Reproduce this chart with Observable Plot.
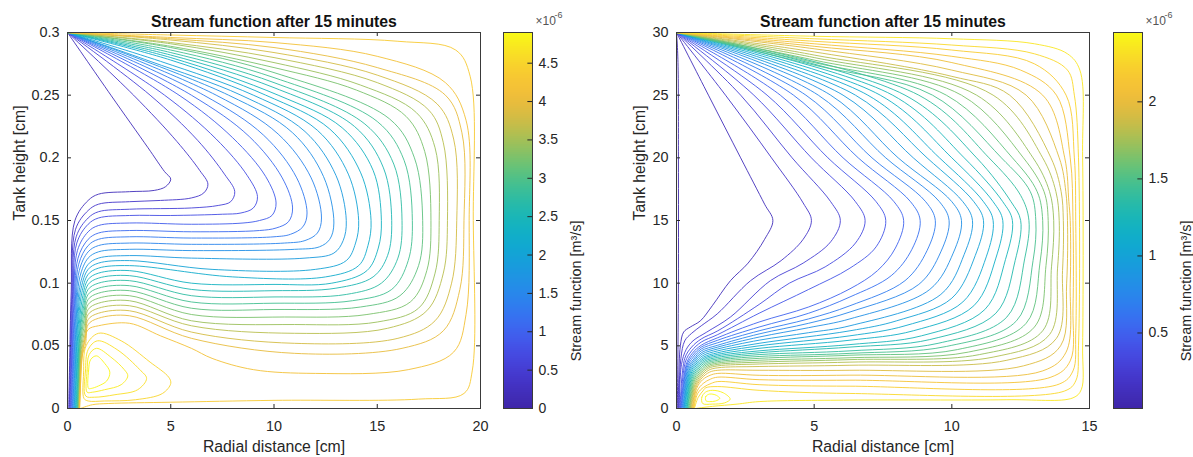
<!DOCTYPE html>
<html><head><meta charset="utf-8">
<script src="https://cdn.jsdelivr.net/npm/d3@7"></script>
<script src="https://cdn.jsdelivr.net/npm/@observablehq/plot@0.6"></script>
<style>
html,body{margin:0;padding:0;background:#fff;width:1193px;height:457px;overflow:hidden}
#root{position:relative;width:1193px;height:457px}
#root svg{position:absolute;top:0}
</style></head><body><div id="root"></div>
<script>
// ---------- texts ----------
const titleText = "Stream function after 15 minutes";
const xLabelText = "Radial distance [cm]";
const yLabelText = "Tank height [cm]";
const cbLabelText = "Stream function [m³/s]";
const cbExpBase = "×10";
const cbExpPower = "-6";

// ---------- parula-like colour stops ----------
const parulaStops = ["#3e26a8","#4637d0","#4558ef","#2f7ff2","#1b98e0","#0aafcc","#23bbaa","#5fc47a","#b3bf4d","#f4b83b","#f9cd2f","#f9fb15"];

// ---------- left panel (tank 20 cm) ----------
const leftXTicks = [0,5,10,15,20];
const leftYTicks = [0,0.05,0.1,0.15,0.2,0.25,0.3];
const leftCbTicks = [0,0.5,1,1.5,2,2.5,3,3.5,4,4.5];
const leftCbRange = [0,4.9];
const leftLevels = [0.2,0.38,0.56,0.74,0.92,1.1,1.28,1.46,1.64,1.82,2.0,2.18,2.36,2.54,2.72,2.9,3.08,3.26,3.44,3.62,3.8,3.98,4.16,4.34];
const leftLines = [
[0,.3,2.1,.25,3.9,.208,4.7,.189,5.0,.183,4.75,.177,4.2,.174,3,.173,1.5,.171,1.0,.166,.36,.15,.18,.093,.1,.034,.06,0],
[0,.3,3.2,.25,5.3,.213,6.4,.19,6.8,.179,6.6,.172,6.0,.168,4.5,.166,3,.165,1.5,.163,1.0,.158,.39,.143,.21,.09,.13,.033,.09,0],
[0,.3,4,.25,6.3,.214,7.6,.187,8.1,.173,7.9,.165,7.3,.162,6,.16,3,.159,1.5,.157,1.0,.152,.42,.137,.24,.087,.16,.032,.12,0],
[0,.3,4.7,.25,7.2,.215,8.7,.186,9.2,.169,9.0,.16,8.4,.156,7.5,.155,5,.154,3,.154,1.5,.152,1.0,.147,.45,.132,.27,.085,.19,.031,.15,0],
[0,.3,5.4,.25,8.0,.216,9.6,.185,10.1,.164,9.9,.154,9.3,.15,8.5,.148,6,.147,3,.148,1.5,.146,1.0,.141,.48,.126,.3,.082,.22,.03,.18,0],
[0,.3,6,.25,8.8,.217,10.4,.184,10.9,.16,10.7,.149,10.1,.144,9.3,.142,6,.141,3,.142,1.5,.14,1.0,.135,.51,.12,.33,.078,.25,.03,.21,0],
[0,.3,6.6,.25,9.5,.218,11.1,.184,11.6,.156,11.4,.145,10.8,.139,10,.137,6,.136,3,.137,1.5,.135,1.0,.13,.54,.115,.36,.075,.28,.028,.24,0],
[0,.3,7.2,.25,10.2,.219,11.8,.184,12.3,.152,12.1,.14,11.5,.134,10.5,.132,6,.131,3,.132,1.5,.13,1.0,.125,.57,.11,.39,.072,.31,.027,.27,0],
[0,.3,7.8,.25,10.9,.22,12.4,.185,12.9,.148,12.7,.135,12.2,.129,11,.127,6,.126,3,.127,1.5,.125,1.0,.12,.6,.105,.42,.07,.34,.026,.3,0],
[0,.3,4,.277,8.4,.25,11.5,.221,13,.186,13.5,.15,13.35,.134,12.9,.124,11.5,.12,6,.12,3,.122,1.5,.12,1.0,.115,.63,.1,.45,.067,.37,.025,.33,0],
[0,.3,4.5,.277,9,.25,12.1,.222,13.6,.187,14.1,.15,13.95,.132,13.5,.118,12,.111,7,.111,3,.118,1.5,.116,1.0,.111,.66,.096,.48,.065,.4,.024,.36,0],
[0,.3,5,.278,9.6,.25,12.7,.223,14.2,.188,14.7,.15,14.55,.13,14.1,.114,12.5,.105,8,.105,3,.114,1.5,.112,1.0,.107,.69,.092,.51,.063,.43,.023,.39,0],
[0,.3,5,.28,10.2,.25,13.3,.224,14.8,.19,15.2,.15,15.05,.128,14.5,.11,12.8,.1,10,.099,6,.1,3,.11,1.5,.108,1.0,.103,.72,.088,.54,.06,.46,.022,.42,0],
[0,.3,5,.282,10,.256,13.9,.225,15.3,.192,15.7,.15,15.5,.122,14.8,.105,13,.096,10,.094,6,.095,3,.106,1.5,.104,1.0,.099,.75,.084,.57,.058,.49,.021,.45,0],
[0,.3,5,.284,10,.26,14.4,.227,15.8,.195,16.2,.15,16.0,.12,15.2,.1,13.5,.091,10,.089,6,.09,3,.102,1.5,.1,1.0,.095,.77,.08,.59,.056,.51,.02,.47,0],
[0,.3,5,.286,10,.264,15,.229,16.3,.198,16.7,.15,16.5,.118,15.7,.095,13.8,.086,10,.084,6,.085,3,.098,1.5,.096,1.0,.091,.79,.076,.61,.054,.53,.02,.49,0],
[0,.3,5,.288,10,.268,15.6,.231,16.8,.2,17.2,.15,17.0,.114,16.1,.09,14.2,.081,10,.079,6,.08,3,.094,1.5,.092,1.0,.087,.81,.072,.63,.052,.55,.019,.51,0],
[0,.3,5,.289,10,.272,14,.254,16.4,.233,17.3,.205,17.6,.15,17.4,.11,16.6,.085,14.5,.075,10.5,.073,6,.075,3,.09,1.5,.088,1.0,.083,.83,.068,.65,.05,.57,.018,.53,0],
[0,.3,5,.291,10,.276,14.2,.258,16.9,.236,17.8,.208,18.0,.15,17.8,.108,17.0,.08,15,.069,11,.067,6,.07,3,.086,1.5,.084,1.0,.079,.85,.064,.665,.047,.585,.017,.545,0],
[0,.3,5,.292,10,.28,15,.26,17.5,.238,18.2,.212,18.4,.15,18.2,.108,17.4,.078,15.5,.064,11,.06,6,.066,3,.082,1.5,.08,1.0,.075,.86,.06,.68,.045,.6,.016,.56,0],
[0,.3,5,.294,10,.284,15,.266,17.9,.243,18.7,.215,18.85,.15,18.6,.1,17.8,.07,16,.056,11,.052,6,.061,3,.078,1.5,.076,1.0,.071,.87,.056,.69,.043,.61,.016,.57,0],
[0,.3,5,.295,10,.288,15,.272,18.3,.25,19.1,.22,19.2,.15,19.0,.095,18.2,.062,16.2,.048,11,.044,6,.056,3,.074,1.5,.072,1.0,.067,.88,.052,.7,.041,.62,.015,.58,0],
[0,.3,5,.296,10,.292,15,.281,18.3,.26,19.3,.23,19.45,.15,19.3,.075,18.7,.045,16.5,.031,12,.028,9,.031,7,.04,6,.048,4.5,.058,3,.068,1.5,.066,1.0,.063,.8,.052,.68,.035,.62,.014,.59,0],
[0,.3,5,.298,10,.296,16,.293,18.8,.286,19.5,.265,19.65,.15,19.6,.03,19.2,.012,17,.0075,10,.0065,5,.005,2,.004,1.2,.003,.62,0]
];
const leftLoopLevels = [4.5,4.62,4.74,4.86];
const leftLoops = [
[.8,.008,.78,.028,.9,.05,1.5,.06,2.6,.054,4.0,.037,4.9,.025,5.0,.02,4.6,.012,3.3,.007,1.8,.006,1.0,.006],
[.88,.01,.87,.03,1.0,.047,1.45,.054,2.4,.047,3.5,.031,3.83,.024,3.4,.015,2.3,.011,1.3,.009],
[.95,.013,.95,.03,1.05,.043,1.4,.048,2.1,.041,2.75,.031,2.92,.026,2.6,.019,1.8,.015,1.2,.013],
[1.02,.016,1.02,.03,1.12,.039,1.4,.042,1.8,.036,2.05,.029,1.9,.022,1.5,.018,1.15,.016]
];

// ---------- right panel (tank 15 cm) ----------
const rightXTicks = [0,5,10,15];
const rightYTicks = [0,5,10,15,20,25,30];
const rightCbTicks = [0.5,1,1.5,2];
const rightCbRange = [0.01,2.45];
const rightLevels = [0.03,0.11,0.19,0.27,0.35,0.43,0.51,0.59,0.67,0.75,0.83,0.91,0.99,1.07,1.15,1.23,1.31,1.39,1.47,1.55,1.63,1.71,1.79,1.87,1.95,2.03,2.11,2.19,2.27,2.35];
const rightLines = [
[0,30,.03,29,.06,27,.07,20,.07,10,.05,4,.03,0],
[0,30,1.16,25,2.33,20,3.2,16.3,3.5,15,3.2,13.5,2.6,11.6,1.96,10.2,1.3,8.2,.87,7.0,.5,6.5,.26,6.1,.14,5,.08,2,.06,0],
[0,30,1.78,25,3.45,20,4.6,16.4,4.9,15,4.6,13.5,3.8,11.8,2.69,10.2,1.48,7.55,.9,6.6,.55,6.0,.3,5.4,.16,4,.08,0],
[0,30,2.33,25,4.2,20,5.6,16.5,5.95,15,5.6,13.3,4.6,11.6,3.41,10.2,1.96,7.3,1.1,6.1,.6,5.4,.35,4.7,.18,3.5,.1,0],
[0,30,2.81,25,4.9,20,6.5,16.5,6.85,15,6.5,13.2,5.4,11.3,4.1,10.0,3,8.3,1.5,6.2,.9,5.55,.55,4.9,.3,4.0,.13,0],
[0,30,3.29,25,5.5,20,7.25,16.5,7.6,15,7.25,12.9,6.3,11.2,4.8,9.5,3,7.6,1.5,5.9,.9,5.3,.55,4.6,.32,3.7,.15,0],
[0,30,3.77,25,6.05,20,7.9,16.5,8.25,15,7.95,12.8,7.3,11,6.3,9.55,4.8,8.1,3,6.9,1.5,5.65,.9,5.05,.57,4.4,.35,3.5,.17,0],
[0,30,4.25,25,6.6,20,8.5,16.5,8.85,15,8.55,12.7,7.8,10.6,6.3,8.9,4.8,7.6,3,6.5,1.5,5.45,.9,4.9,.59,4.25,.37,3.4,.19,0],
[0,30,4.7,25,7.1,20,9.05,16.5,9.4,15,9.1,12.6,8.3,10.2,6.3,8.2,4.8,7.15,3,6.2,1.5,5.25,.9,4.75,.61,4.1,.39,3.3,.21,0],
[0,30,5.15,25,7.6,20,9.55,16.5,9.9,15,9.6,12.5,8.8,9.9,6.3,7.7,4.8,6.8,3,5.95,1.5,5.05,.9,4.6,.63,3.95,.41,3.2,.24,0],
[0,30,5.6,25,8.05,20,10,16.5,10.35,15,10.05,12.4,9.2,9.5,6.3,7.15,4.8,6.45,3,5.7,1.5,4.9,.92,4.47,.65,3.85,.43,3.1,.26,0],
[0,30,6.05,25,8.6,20,10.4,16.5,10.75,15,10.45,12.3,9.6,9.1,6.3,6.6,4.8,6.05,3,5.45,1.5,4.75,.94,4.35,.67,3.75,.45,3.0,.28,0],
[0,30,6.5,25,9.1,20,10.8,16.5,11.15,15,10.85,12.2,10,8.8,8,7.0,6.3,6.2,3,5.2,1.5,4.6,.96,4.22,.69,3.65,.47,2.9,.3,0],
[0,30,6.95,25,9.55,20,11.15,16.5,11.5,15,11.25,12.1,10.4,8.5,8.3,6.6,6.3,5.8,3,5.0,1.5,4.45,.98,4.1,.71,3.55,.49,2.8,.32,0],
[0,30,7.4,25,10,20,11.5,16.5,11.85,15,11.6,12,10.8,8.2,8.6,6.2,6.3,5.45,3,4.8,1.5,4.32,1.0,4.0,.73,3.45,.51,2.7,.35,0],
[0,30,7.85,25,10.45,20,11.85,16.5,12.2,15,11.95,11.9,11.2,7.9,8.9,5.8,6.3,5.1,3,4.6,1.5,4.2,1.02,3.9,.75,3.35,.53,2.6,.37,0],
[0,30,8.3,25,10.9,20,12.15,16.5,12.5,15,12.3,11.8,11.6,7.6,9.2,5.5,6.3,4.9,3,4.45,1.5,4.08,1.04,3.8,.77,3.25,.55,2.5,.39,0],
[0,30,8.8,25,11.35,20,12.5,17,12.8,15,12.65,12,12,7.3,9.5,5.2,6.3,4.6,3,4.3,1.5,3.96,1.06,3.7,.79,3.15,.57,2.4,.41,0],
[0,30,5,27.4,9.3,25,11.8,20,12.85,17.3,13.05,15,12.95,11.8,12.35,7.0,9.8,4.95,6.3,4.4,3,4.15,1.5,3.85,1.08,3.6,.81,3.05,.59,2.3,.43,0],
[0,30,5,27.6,9.8,25,12.2,20,13.1,17.3,13.3,15,13.2,11.6,12.7,6.8,10.2,4.7,6.3,4.25,3,4.0,1.5,3.74,1.1,3.5,.83,2.95,.61,2.2,.46,0],
[0,30,5,27.8,10.35,25,12.6,20,13.35,17.3,13.5,15,13.42,11.4,13.0,6.5,10.6,4.5,6.3,4.05,3,3.85,1.5,3.63,1.12,3.4,.85,2.85,.63,2.1,.48,0],
[0,30,5,28.0,10.9,25,12.95,20,13.55,17.3,13.7,15,13.62,11.3,13.3,6.2,11,4.3,6.3,3.9,3,3.7,1.5,3.52,1.14,3.3,.87,2.75,.65,2.0,.5,0],
[0,30,5,28.2,11.5,25,13.3,20,13.78,17.3,13.9,15,13.84,11.2,13.55,5.9,11.5,4.1,6.3,3.7,3,3.55,1.5,3.4,1.16,3.2,.89,2.65,.67,1.9,.52,0],
[0,30,5,28.45,10,26.5,12.1,25,13.6,20,13.97,17.3,14.05,15,14.02,11,13.8,5.6,12,3.85,6.3,3.45,3,3.35,1.5,3.25,1.18,3.07,.91,2.55,.69,1.8,.54,0],
[0,30,5,28.7,10,27,12.7,25,13.9,20,14.14,17.3,14.2,15,14.17,10,13.95,5.0,12.6,3.4,6.3,3.05,3,3.05,1.5,3.05,1.2,2.9,.93,2.45,.71,1.7,.57,0],
[0,30,5,28.9,10,27.6,13.3,25,14.1,20,14.25,16.5,14.3,15,14.3,10,14.15,4.5,13.3,3.0,6.3,2.66,3,2.65,1.5,2.8,1.22,2.65,.95,2.3,.73,1.6,.59,0],
[0,30,5,29.1,10,28.1,12.5,27,13.8,25,14.3,20,14.4,15,14.4,8,14.3,3.8,13.6,2.5,6.3,2.26,3,2.3,1.5,2.5,1.24,2.35,.97,2.0,.75,1.4,.61,0],
[0,30,5,29.3,10,28.6,13,27.5,14.15,25,14.45,20,14.5,15,14.5,6,14.4,3,13.9,1.95,6.3,1.78,3,1.9,1.5,2.15,1.26,2.0,.99,1.7,.77,1.2,.63,0],
[0,30,5,29.5,10,29.0,13,28.3,14.2,27,14.45,25,14.6,20,14.6,5,14.5,2.2,14.1,1.4,6.3,1.2,3,1.45,1.5,1.75,1.06,1.65,.96,1.4,.79,.9,.65,0],
[0,30,5,29.7,10,29.5,13,29.1,14.2,28.3,14.65,27,14.75,20,14.75,5,14.7,1.5,14.4,.85,12,.7,6.3,.67,3,.55,2.2,.35,1.3,.17,.68,0]
];
const rightLoopLevels = [2.4,2.44];
const rightLoops = [
[.95,.4,.92,.9,1.05,1.3,1.3,1.45,1.7,1.25,1.95,.75,1.75,.45,1.3,.35],
[1.07,.62,1.06,.95,1.2,1.15,1.45,1.05,1.57,.8,1.42,.6,1.2,.55]
];

// ---------- helpers ----------
const parula = d3.interpolateRgbBasis(parulaStops);
const FONT = "'Liberation Sans', Arial, Helvetica, sans-serif";
const INK = "#262626";
const TICK_PX = 4;
const LINE_W = 0.9;

function toRecords(lines, levels, prefix) {
  const out = [];
  lines.forEach((pts, i) => {
    for (let j = 0; j < pts.length; j += 2) out.push({id: prefix + i, level: levels[i], x: pts[j], y: pts[j + 1]});
  });
  return out;
}

function panel(o) {
  const frameW = 413, frameH = 376;
  const tx = (o.xDomain[1] - o.xDomain[0]) * TICK_PX / frameW;
  const ty = (o.yDomain[1] - o.yDomain[0]) * TICK_PX / frameH;
  const [x0, x1] = o.xDomain, [y0, y1] = o.yDomain;
  const svg = Plot.plot({
    width: o.width, height: 457,
    marginLeft: o.mL, marginRight: o.width - o.mL - frameW, marginTop: 32, marginBottom: 49,
    style: {background: "transparent", fontFamily: FONT, fontSize: "14.4px", color: INK, overflow: "visible"},
    x: {domain: o.xDomain, ticks: o.xTicks, tickSize: 0, tickPadding: 12, tickFormat: d => String(d), label: null},
    y: {domain: o.yDomain, ticks: o.yTicks, tickSize: 0, tickPadding: 8, tickFormat: d => String(d), label: null},
    color: {type: "linear", domain: o.cRange, interpolate: parula},
    marks: [
      Plot.line(toRecords(o.lines, o.levels, "o"), {x: "x", y: "y", z: "id", stroke: "level", curve: "catmull-rom", strokeWidth: LINE_W, clip: true}),
      Plot.line(toRecords(o.loops, o.loopLevels, "c"), {x: "x", y: "y", z: "id", stroke: "level", curve: "catmull-rom-closed", strokeWidth: LINE_W, clip: true}),
      Plot.ruleX(o.xTicks, {x: d => d, y1: y0, y2: y0 + ty, stroke: INK}),
      Plot.ruleX(o.xTicks, {x: d => d, y1: y1 - ty, y2: y1, stroke: INK}),
      Plot.ruleY(o.yTicks, {y: d => d, x1: x0, x2: x0 + tx, stroke: INK}),
      Plot.ruleY(o.yTicks, {y: d => d, x1: x1 - tx, x2: x1, stroke: INK}),
      Plot.frame({stroke: "#3a3a3a", strokeWidth: 1}),
      Plot.text([titleText], {text: d => d, frameAnchor: "top", lineAnchor: "top", dy: -17, fontWeight: "bold", fontSize: 15.8, fill: "#111"}),
      Plot.text([xLabelText], {text: d => d, frameAnchor: "bottom", lineAnchor: "top", dy: 32, fontSize: 15.8, fill: INK}),
      Plot.text([yLabelText], {text: d => d, frameAnchor: "left", lineAnchor: "middle", dx: o.yLabelDx, rotate: -90, fontSize: 15.8, fill: INK})
    ]
  });
  svg.style.left = o.left + "px";
  return svg;
}

function colorbar(o) {
  const n = 188;
  const step = (o.cRange[1] - o.cRange[0]) / n;
  const bins = Array.from({length: n}, (_, i) => ({a: o.cRange[0] + i * step, b: o.cRange[0] + (i + 1.3) * step, v: o.cRange[0] + (i + 0.5) * step}));
  const svg = Plot.plot({
    width: o.width, height: 457,
    marginLeft: o.mL, marginRight: o.width - o.mL - 29, marginTop: 32, marginBottom: 49,
    style: {background: "transparent", fontFamily: FONT, fontSize: "14px", color: INK, overflow: "visible"},
    x: {domain: [0, 1], axis: null},
    y: {domain: o.cRange, axis: null},
    color: {type: "linear", domain: o.cRange, interpolate: parula},
    marks: [
      Plot.rect(bins, {x1: 0, x2: 1, y1: "a", y2: "b", fill: "v", clip: true}),
      Plot.ruleY(o.ticks, {y: d => d, x1: 0.84, x2: 1, stroke: INK}),
      Plot.frame({stroke: "#3a3a3a", strokeWidth: 1}),
      Plot.text(o.ticks, {x: 1, y: d => d, dx: 6, textAnchor: "start", text: d => String(d), fontSize: 14, fill: INK}),
      Plot.text([cbExpBase], {text: d => d, frameAnchor: "top-right", textAnchor: "start", lineAnchor: "bottom", dx: 3, dy: -8, fontSize: 12, fill: "#555"}),
      Plot.text([cbExpPower], {text: d => d, frameAnchor: "top-right", textAnchor: "start", lineAnchor: "bottom", dx: 22, dy: -15, fontSize: 9, fill: "#555"}),
      Plot.text([cbLabelText], {text: d => d, frameAnchor: "right", lineAnchor: "middle", dx: 43.5, rotate: -90, fontSize: 14.4, fill: INK})
    ]
  });
  svg.style.left = o.left + "px";
  return svg;
}

const root = document.getElementById("root");
root.appendChild(panel({left: 0, width: 490, mL: 67, xDomain: [0, 20], yDomain: [0, 0.3], xTicks: leftXTicks, yTicks: leftYTicks,
  lines: leftLines, levels: leftLevels, loops: leftLoops, loopLevels: leftLoopLevels, cRange: leftCbRange, yLabelDx: -48}));
root.appendChild(colorbar({left: 480, width: 110, mL: 23, cRange: leftCbRange, ticks: leftCbTicks}));
root.appendChild(panel({left: 596, width: 503, mL: 80, xDomain: [0, 15], yDomain: [0, 30], xTicks: rightXTicks, yTicks: rightYTicks,
  lines: rightLines, levels: rightLevels, loops: rightLoops, loopLevels: rightLoopLevels, cRange: rightCbRange, yLabelDx: -37}));
root.appendChild(colorbar({left: 1090, width: 103, mL: 23, cRange: rightCbRange, ticks: rightCbTicks}));
</script>
</body></html>
